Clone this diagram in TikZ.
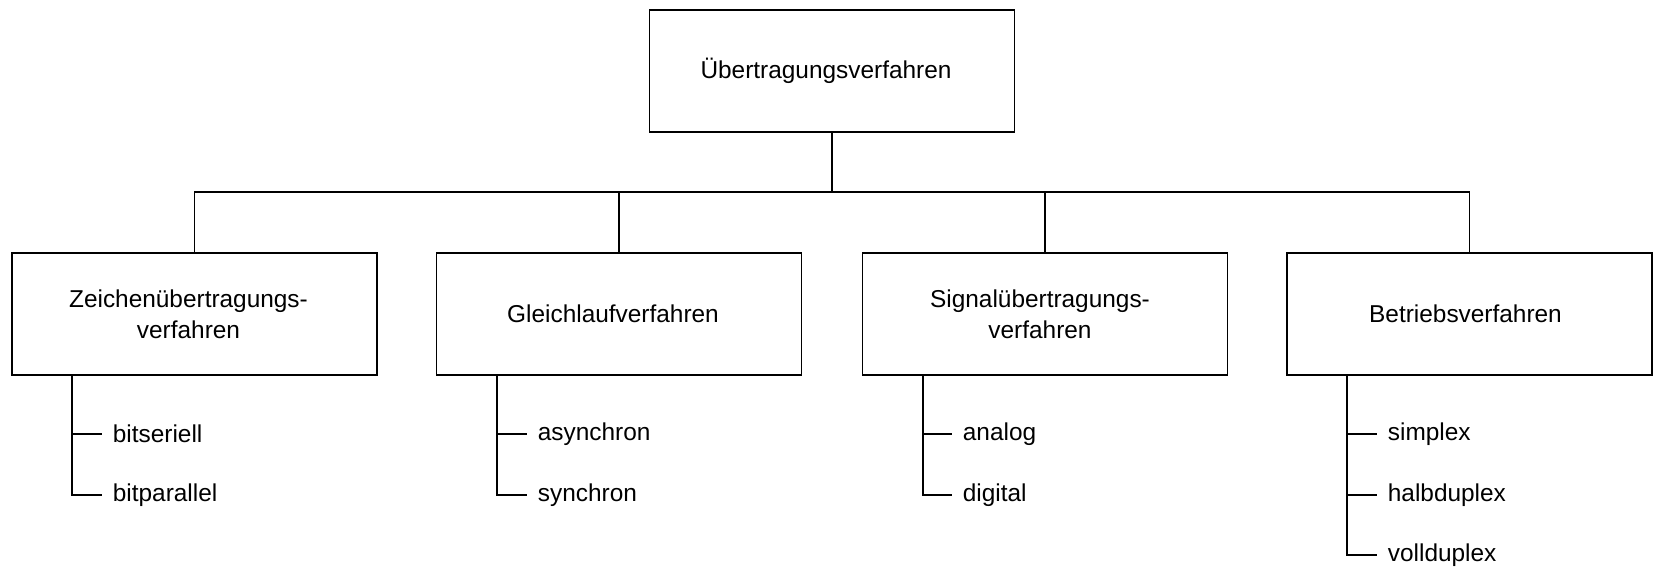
\documentclass[tikz,border=0pt]{standalone}
\usepackage{fontspec}
\setmainfont{Liberation Sans}
\begin{document}
\begin{tikzpicture}[x=0.5pt,y=-0.5pt,
  line width=0.9pt,
  box/.style={draw,rectangle,minimum width=182.5pt,minimum height=61pt,inner sep=0pt},
  boxtext/.style={inner sep=0pt,align=center,font=\fontsize{12.2pt}{15.5pt}\selectfont},
  item/.style={anchor=west,inner xsep=5pt,inner ysep=0pt,
    font=\fontsize{12.2pt}{15pt}\selectfont}]
\useasboundingbox (0,0) rectangle (1656,569);

% root and the four branches
\node[box] (top) at (832,71) {};
\node[box] (z) at (194.5,314) {};
\node[box] (g) at (619,314) {};
\node[box] (s) at (1045,314) {};
\node[box] (b) at (1469.5,314) {};

% box captions, set slightly left of the box centres
\node[boxtext] (topt) at ([xshift=-3pt]top.center) {Übertragungsverfahren};
\node[boxtext] (zt) at ([xshift=-3pt]z.center) {Zeichenübertragungs-\\verfahren};
\node[boxtext] (gt) at ([xshift=-3pt]g.center) {Gleichlaufverfahren};
\node[boxtext] (st) at ([xshift=-2.5pt]s.center) {Signalübertragungs-\\verfahren};
\node[boxtext] (bt) at ([xshift=-2pt]b.center) {Betriebsverfahren};

% tree connectors
\coordinate (bus) at (832,192);
\draw (top.south) -- (bus);
\draw (z.north) -- (z.north |- bus) -- (b.north |- bus) -- (b.north);
\draw (g.north) -- (g.north |- bus);
\draw (s.north) -- (s.north |- bus);

% item lists below each branch
\node[item] (z1) at (102,434) {bitseriell};
\node[item] (z2) at (102,495) {bitparallel};
\node[item] (g1) at (527,434) {asynchron};
\node[item] (g2) at (527,495) {synchron};
\node[item] (s1) at (952,434) {analog};
\node[item] (s2) at (952,495) {digital};
\node[item] (b1) at (1377,434) {simplex};
\node[item] (b2) at (1377,495) {halbduplex};
\node[item] (b3) at (1377,555) {vollduplex};

\coordinate (zr) at ([xshift=30.5pt]z.south west);
\coordinate (gr) at ([xshift=30.5pt]g.south west);
\coordinate (sr) at ([xshift=30.5pt]s.south west);
\coordinate (br) at ([xshift=30.5pt]b.south west);

\draw (zr) |- (z2.west);
\draw (zr |- z1.west) -- (z1.west);
\draw (gr) |- (g2.west);
\draw (gr |- g1.west) -- (g1.west);
\draw (sr) |- (s2.west);
\draw (sr |- s1.west) -- (s1.west);
\draw (br) |- (b3.west);
\draw (br |- b1.west) -- (b1.west);
\draw (br |- b2.west) -- (b2.west);
\end{tikzpicture}
\end{document}
